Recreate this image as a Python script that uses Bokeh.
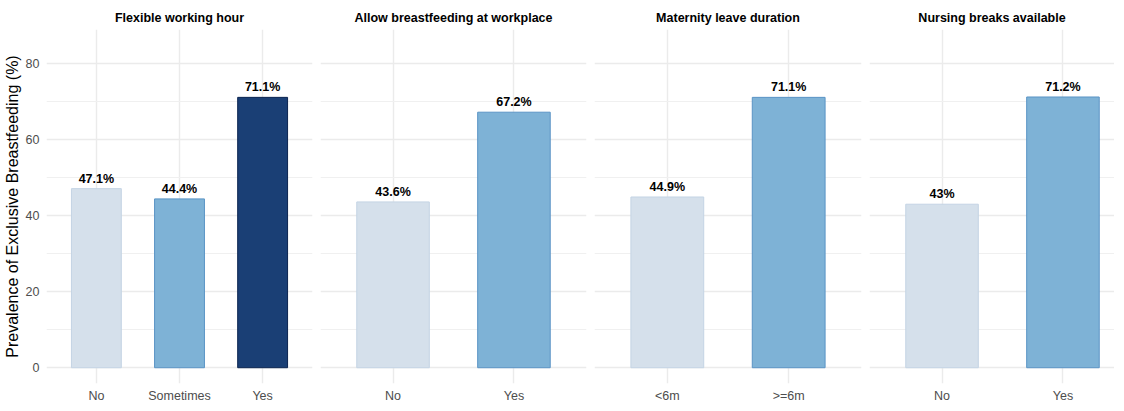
from bokeh.plotting import figure
from bokeh.layouts import row
from bokeh.models import Range1d, FixedTicker, ColumnDataSource, Title
from bokeh.core.properties import value
from bokeh.embed import file_html
from bokeh.resources import INLINE

# ---- data ----
panel_titles = ["Flexible working hour", "Allow breastfeeding at workplace",
                "Maternity leave duration", "Nursing breaks available"]
cats_flex = ["No", "Sometimes", "Yes"]
vals_flex = [47.1, 44.4, 71.1]
cats_allow = ["No", "Yes"]
vals_allow = [43.6, 67.2]
cats_mat = ["<6m", ">=6m"]
vals_mat = [44.9, 71.1]
cats_nurse = ["No", "Yes"]
vals_nurse = [43.0, 71.2]
y_ticks = [0, 20, 40, 60, 80]
y_minor = [10, 30, 50, 70]

LIGHT, MED, DARK = "#D5E0EB", "#7EB2D6", "#1A3F75"
LIGHT_L, MED_L, DARK_L = "#C4D4E4", "#5A94C5", "#0B2450"

FONT = "Liberation Sans"
YMIN, YMAX = -4.15, 88.95
PX_PER_UNIT_2 = 266 / 2.2

panels = [
    (cats_flex, vals_flex, [LIGHT, MED, DARK], [LIGHT_L, MED_L, DARK_L]),
    (cats_allow, vals_allow, [LIGHT, MED], [LIGHT_L, MED_L]),
    (cats_mat, vals_mat, [LIGHT, MED], [LIGHT_L, MED_L]),
    (cats_nurse, vals_nurse, [LIGHT, MED], [LIGHT_L, MED_L]),
]
frame_widths = [266, 266, 267, 245]

figs = []
for i, (cats, vals, fills, lines) in enumerate(panels):
    n = len(cats)
    fw = frame_widths[i]
    if i == 3:
        xr = Range1d(0.4, 0.4 + fw / PX_PER_UNIT_2)
    else:
        xr = Range1d(0.4, n + 0.6)
    p = figure(frame_width=fw, frame_height=354, x_range=xr,
               y_range=Range1d(YMIN, YMAX), output_backend="svg",
               toolbar_location=None,
               min_border_left=40 if i == 0 else 4,
               min_border_right=0 if i == 3 else 4,
               min_border_top=29, min_border_bottom=20)
    p.title = Title(text=panel_titles[i], align="center",
                    text_font=FONT, text_font_size="12.5px",
                    text_font_style="bold", text_color="#000000",
                    standoff=9)
    xs = list(range(1, n + 1))
    src = ColumnDataSource(dict(x=xs, top=vals, fill=fills, line=lines,
                                lab=[f"{v:g}%" for v in vals]))
    p.vbar(x="x", top="top", bottom=0, width=0.6, source=src,
           fill_color="fill", line_color="line", line_width=1)
    p.text(x="x", y="top", text="lab", source=src, text_align="center",
           text_baseline="bottom", y_offset=-3,
           text_font=value(FONT), text_font_size="12.5px",
           text_font_style="bold", text_color="#000000")

    # axes
    p.xaxis.ticker = FixedTicker(ticks=xs)
    p.xaxis.major_label_overrides = {x: c for x, c in zip(xs, cats)}
    p.xaxis.major_label_text_font = FONT
    p.xaxis.major_label_text_font_size = "12.5px"
    p.xaxis.major_label_text_color = "#4D4D4D"
    p.xaxis.major_label_standoff = 5
    p.xaxis.major_tick_out = 0
    p.xaxis.major_tick_in = 0
    p.xaxis.minor_tick_out = 0
    p.xaxis.axis_line_color = None
    p.xaxis.major_tick_line_color = None
    p.xaxis.minor_tick_line_color = None

    p.yaxis.ticker = FixedTicker(ticks=y_ticks, minor_ticks=y_minor)
    if i == 0:
        p.yaxis.axis_label = "Prevalence of Exclusive Breastfeeding (%)"
        p.yaxis.axis_label_text_font = FONT
        p.yaxis.axis_label_text_font_size = "16px"
        p.yaxis.axis_label_text_font_style = "normal"
        p.yaxis.axis_label_text_color = "#000000"
        p.yaxis.axis_label_standoff = 2
        p.yaxis.major_label_text_font = FONT
        p.yaxis.major_label_text_font_size = "12.5px"
        p.yaxis.major_label_text_color = "#4D4D4D"
        p.yaxis.major_label_standoff = 7
        p.yaxis.major_tick_out = 0
        p.yaxis.major_tick_in = 0
        p.yaxis.minor_tick_out = 0
        p.yaxis.axis_line_color = None
        p.yaxis.major_tick_line_color = None
        p.yaxis.minor_tick_line_color = None
    else:
        p.yaxis.visible = False

    # grids
    p.xgrid.ticker = FixedTicker(ticks=xs)
    p.xgrid.grid_line_color = "#EBEBEB"
    p.xgrid.grid_line_width = 1.4
    p.ygrid.ticker = FixedTicker(ticks=y_ticks, minor_ticks=y_minor)
    p.ygrid.grid_line_color = "#EBEBEB"
    p.ygrid.grid_line_width = 1.4
    p.ygrid.minor_grid_line_color = "#F0F0F0"
    p.ygrid.minor_grid_line_width = 1.0

    p.outline_line_color = None
    p.background_fill_color = "white"
    p.border_fill_color = "white"
    figs.append(p)

layout = row(*figs)
open("out.html", "w").write(file_html(layout, INLINE))
